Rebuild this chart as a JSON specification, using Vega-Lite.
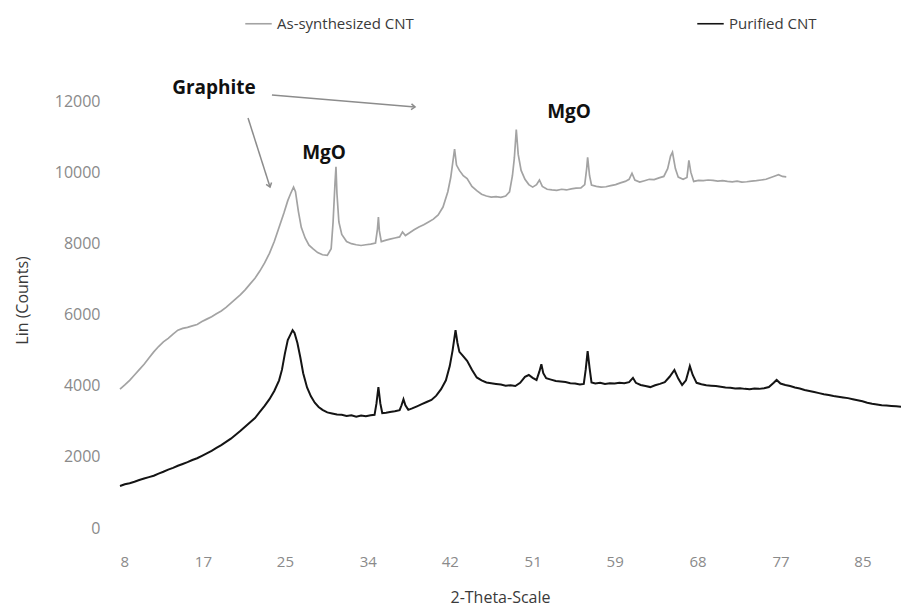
{
  "$schema": "https://vega.github.io/schema/vega-lite/v6.json",
  "width": 781,
  "height": 427,
  "autosize": {"type": "none"},
  "padding": {"left": 120, "top": 101, "right": 0, "bottom": 81},
  "background": "#ffffff",
  "config": {
    "view": {"stroke": null},
    "font": "Open Sans",
    "axis": {"grid": false, "domain": false, "ticks": false, "labelFont": "Open Sans", "titleFont": "Open Sans", "labelColor": "#8a8a8a", "titleColor": "#3a3a3a", "titleFontWeight": "normal"}
  },
  "datasets": {
    "A": [
      {"t":8.0,"c":3900},{"t":8.5,"c":4020},{"t":9.0,"c":4150},{"t":9.5,"c":4300},{"t":10.0,"c":4450},{"t":10.5,"c":4600},{"t":11.0,"c":4780},{"t":11.5,"c":4950},{"t":12.0,"c":5100},{"t":12.5,"c":5230},{"t":13.0,"c":5330},{"t":13.5,"c":5450},{"t":14.0,"c":5560},{"t":14.5,"c":5610},{"t":15.0,"c":5640},{"t":15.5,"c":5680},{"t":16.0,"c":5720},{"t":16.5,"c":5800},{"t":17.0,"c":5870},{"t":17.5,"c":5940},{"t":18.0,"c":6020},{"t":18.5,"c":6100},{"t":19.0,"c":6200},{"t":19.5,"c":6320},{"t":20.0,"c":6440},{"t":20.5,"c":6560},{"t":21.0,"c":6700},{"t":21.5,"c":6860},{"t":22.0,"c":7020},{"t":22.5,"c":7220},{"t":23.0,"c":7450},{"t":23.5,"c":7720},{"t":24.0,"c":8050},{"t":24.5,"c":8450},{"t":25.0,"c":8850},{"t":25.4,"c":9200},{"t":25.7,"c":9400},{"t":26.0,"c":9580},{"t":26.2,"c":9450},{"t":26.5,"c":8900},{"t":26.8,"c":8450},{"t":27.2,"c":8150},{"t":27.6,"c":7950},{"t":28.0,"c":7850},{"t":28.5,"c":7740},{"t":29.0,"c":7680},{"t":29.5,"c":7660},{"t":29.9,"c":7850},{"t":30.1,"c":8600},{"t":30.3,"c":9700},{"t":30.4,"c":10150},{"t":30.5,"c":9400},{"t":30.7,"c":8600},{"t":31.0,"c":8250},{"t":31.5,"c":8050},{"t":32.0,"c":7990},{"t":32.5,"c":7960},{"t":33.0,"c":7940},{"t":33.5,"c":7960},{"t":34.0,"c":7980},{"t":34.5,"c":8010},{"t":34.7,"c":8400},{"t":34.8,"c":8740},{"t":34.9,"c":8350},{"t":35.1,"c":8050},{"t":35.6,"c":8090},{"t":36.0,"c":8120},{"t":36.5,"c":8150},{"t":37.0,"c":8180},{"t":37.3,"c":8320},{"t":37.6,"c":8220},{"t":38.0,"c":8290},{"t":38.5,"c":8380},{"t":39.0,"c":8460},{"t":39.5,"c":8520},{"t":40.0,"c":8600},{"t":40.5,"c":8680},{"t":41.0,"c":8800},{"t":41.5,"c":9020},{"t":42.0,"c":9450},{"t":42.3,"c":9850},{"t":42.5,"c":10250},{"t":42.7,"c":10650},{"t":42.9,"c":10200},{"t":43.2,"c":10050},{"t":43.6,"c":9900},{"t":44.0,"c":9820},{"t":44.5,"c":9600},{"t":45.0,"c":9480},{"t":45.5,"c":9380},{"t":46.0,"c":9330},{"t":46.5,"c":9300},{"t":47.0,"c":9310},{"t":47.5,"c":9290},{"t":48.0,"c":9330},{"t":48.4,"c":9450},{"t":48.7,"c":9900},{"t":48.9,"c":10400},{"t":49.1,"c":11200},{"t":49.3,"c":10500},{"t":49.6,"c":10050},{"t":50.0,"c":9800},{"t":50.4,"c":9650},{"t":50.8,"c":9580},{"t":51.2,"c":9650},{"t":51.5,"c":9780},{"t":51.8,"c":9600},{"t":52.3,"c":9520},{"t":52.8,"c":9500},{"t":53.3,"c":9490},{"t":53.8,"c":9520},{"t":54.3,"c":9500},{"t":54.8,"c":9530},{"t":55.3,"c":9550},{"t":55.8,"c":9560},{"t":56.2,"c":9650},{"t":56.4,"c":10100},{"t":56.5,"c":10420},{"t":56.7,"c":9900},{"t":56.9,"c":9640},{"t":57.4,"c":9600},{"t":57.9,"c":9580},{"t":58.4,"c":9590},{"t":58.9,"c":9620},{"t":59.4,"c":9650},{"t":59.9,"c":9700},{"t":60.4,"c":9740},{"t":60.8,"c":9800},{"t":61.1,"c":9970},{"t":61.4,"c":9780},{"t":61.9,"c":9720},{"t":62.4,"c":9760},{"t":62.9,"c":9800},{"t":63.4,"c":9790},{"t":63.9,"c":9840},{"t":64.4,"c":9880},{"t":64.8,"c":10100},{"t":65.1,"c":10450},{"t":65.3,"c":10560},{"t":65.6,"c":10100},{"t":65.9,"c":9860},{"t":66.4,"c":9800},{"t":66.8,"c":9850},{"t":67.0,"c":10330},{"t":67.2,"c":10000},{"t":67.5,"c":9740},{"t":68.0,"c":9770},{"t":68.5,"c":9760},{"t":69.0,"c":9780},{"t":69.5,"c":9770},{"t":70.0,"c":9750},{"t":70.5,"c":9760},{"t":71.0,"c":9740},{"t":71.5,"c":9730},{"t":72.0,"c":9750},{"t":72.5,"c":9720},{"t":73.0,"c":9730},{"t":73.5,"c":9750},{"t":74.0,"c":9760},{"t":74.5,"c":9780},{"t":75.0,"c":9800},{"t":75.5,"c":9850},{"t":76.0,"c":9900},{"t":76.3,"c":9930},{"t":76.7,"c":9880},{"t":77.1,"c":9870}
    ],
    "P": [
      {"t":8.0,"c":1180},{"t":8.5,"c":1230},{"t":9.0,"c":1260},{"t":9.5,"c":1300},{"t":10.0,"c":1350},{"t":10.5,"c":1390},{"t":11.0,"c":1430},{"t":11.5,"c":1470},{"t":12.0,"c":1530},{"t":12.5,"c":1580},{"t":13.0,"c":1640},{"t":13.5,"c":1690},{"t":14.0,"c":1750},{"t":14.5,"c":1800},{"t":15.0,"c":1850},{"t":15.5,"c":1910},{"t":16.0,"c":1960},{"t":16.5,"c":2030},{"t":17.0,"c":2100},{"t":17.5,"c":2170},{"t":18.0,"c":2250},{"t":18.5,"c":2330},{"t":19.0,"c":2420},{"t":19.5,"c":2510},{"t":20.0,"c":2620},{"t":20.5,"c":2730},{"t":21.0,"c":2850},{"t":21.5,"c":2970},{"t":22.0,"c":3090},{"t":22.5,"c":3260},{"t":23.0,"c":3430},{"t":23.5,"c":3620},{"t":24.0,"c":3850},{"t":24.5,"c":4150},{"t":24.8,"c":4450},{"t":25.1,"c":4900},{"t":25.4,"c":5280},{"t":25.7,"c":5450},{"t":25.9,"c":5560},{"t":26.1,"c":5480},{"t":26.4,"c":5200},{"t":26.7,"c":4800},{"t":27.0,"c":4350},{"t":27.4,"c":3950},{"t":27.8,"c":3700},{"t":28.2,"c":3520},{"t":28.6,"c":3400},{"t":29.0,"c":3320},{"t":29.5,"c":3250},{"t":30.0,"c":3220},{"t":30.5,"c":3190},{"t":31.0,"c":3180},{"t":31.5,"c":3150},{"t":32.0,"c":3170},{"t":32.5,"c":3130},{"t":33.0,"c":3160},{"t":33.5,"c":3140},{"t":34.0,"c":3170},{"t":34.4,"c":3180},{"t":34.6,"c":3500},{"t":34.8,"c":3960},{"t":35.0,"c":3500},{"t":35.2,"c":3230},{"t":35.6,"c":3240},{"t":36.0,"c":3260},{"t":36.5,"c":3280},{"t":37.0,"c":3310},{"t":37.2,"c":3450},{"t":37.4,"c":3620},{"t":37.6,"c":3450},{"t":37.9,"c":3320},{"t":38.3,"c":3360},{"t":38.8,"c":3420},{"t":39.3,"c":3480},{"t":39.8,"c":3540},{"t":40.3,"c":3600},{"t":40.8,"c":3720},{"t":41.3,"c":3900},{"t":41.8,"c":4150},{"t":42.2,"c":4550},{"t":42.5,"c":5000},{"t":42.8,"c":5560},{"t":43.0,"c":5200},{"t":43.2,"c":4950},{"t":43.5,"c":4860},{"t":44.0,"c":4700},{"t":44.5,"c":4450},{"t":45.0,"c":4230},{"t":45.5,"c":4150},{"t":46.0,"c":4090},{"t":46.5,"c":4070},{"t":47.0,"c":4050},{"t":47.5,"c":4030},{"t":48.0,"c":4000},{"t":48.5,"c":4010},{"t":49.0,"c":3990},{"t":49.5,"c":4080},{"t":50.0,"c":4250},{"t":50.4,"c":4300},{"t":50.8,"c":4220},{"t":51.2,"c":4160},{"t":51.5,"c":4400},{"t":51.7,"c":4600},{"t":51.9,"c":4350},{"t":52.2,"c":4210},{"t":52.7,"c":4170},{"t":53.2,"c":4130},{"t":53.7,"c":4120},{"t":54.2,"c":4100},{"t":54.7,"c":4070},{"t":55.2,"c":4060},{"t":55.7,"c":4030},{"t":56.1,"c":4050},{"t":56.3,"c":4450},{"t":56.5,"c":4970},{"t":56.7,"c":4500},{"t":56.9,"c":4090},{"t":57.3,"c":4060},{"t":57.8,"c":4080},{"t":58.3,"c":4050},{"t":58.8,"c":4070},{"t":59.3,"c":4060},{"t":59.8,"c":4080},{"t":60.3,"c":4070},{"t":60.8,"c":4100},{"t":61.2,"c":4220},{"t":61.5,"c":4080},{"t":62.0,"c":4020},{"t":62.5,"c":3990},{"t":63.0,"c":3960},{"t":63.5,"c":4010},{"t":64.0,"c":4050},{"t":64.5,"c":4100},{"t":65.0,"c":4250},{"t":65.5,"c":4440},{"t":65.9,"c":4200},{"t":66.3,"c":4020},{"t":66.7,"c":4150},{"t":67.0,"c":4450},{"t":67.1,"c":4550},{"t":67.4,"c":4300},{"t":67.8,"c":4080},{"t":68.3,"c":4040},{"t":68.8,"c":4010},{"t":69.3,"c":4000},{"t":69.8,"c":3990},{"t":70.3,"c":3970},{"t":70.8,"c":3950},{"t":71.3,"c":3940},{"t":71.8,"c":3920},{"t":72.3,"c":3930},{"t":72.8,"c":3910},{"t":73.3,"c":3900},{"t":73.8,"c":3920},{"t":74.3,"c":3910},{"t":74.8,"c":3930},{"t":75.3,"c":3960},{"t":75.8,"c":4080},{"t":76.1,"c":4160},{"t":76.5,"c":4060},{"t":77.0,"c":4020},{"t":77.5,"c":3990},{"t":78.0,"c":3950},{"t":78.5,"c":3920},{"t":79.0,"c":3880},{"t":79.5,"c":3850},{"t":80.0,"c":3820},{"t":80.5,"c":3790},{"t":81.0,"c":3760},{"t":81.5,"c":3740},{"t":82.0,"c":3710},{"t":82.5,"c":3690},{"t":83.0,"c":3670},{"t":83.5,"c":3650},{"t":84.0,"c":3620},{"t":84.5,"c":3590},{"t":85.0,"c":3560},{"t":85.5,"c":3520},{"t":86.0,"c":3490},{"t":86.5,"c":3470},{"t":87.0,"c":3450},{"t":87.5,"c":3440},{"t":88.0,"c":3430},{"t":88.5,"c":3420},{"t":89.0,"c":3410}
    ],
    "arrows": [
      {"id":"a1","t":23.76,"c":12169,"t2":38.6,"c2":11831},
      {"id":"a2","t":21.28,"c":11522,"t2":23.56,"c2":9583}
    ],
    "labels": [
      {"txt":"Graphite","t":17.75,"c":12365},
      {"txt":"MgO","t":29.16,"c":10539},
      {"txt":"MgO","t":54.57,"c":11691}
    ]
  },
  "layer": [
    {
      "data": {"name": "A"},
      "mark": {"type": "line", "strokeWidth": 1.7, "clip": false},
      "encoding": {
        "x": {"field": "t", "type": "quantitative", "scale": {"domain": [8, 89], "nice": false, "zero": false},
              "axis": {"values": [8, 16.6, 25.1, 33.7, 42.2, 50.8, 59.3, 67.9, 76.5, 85], "labelExpr": "format(datum.value, '.0f')", "labelFontSize": 15, "labelPadding": 26, "title": "2-Theta-Scale", "titleFontSize": 16, "titleX": 380, "titleY": 69, "titleBaseline": "middle", "titleAnchor": null}},
        "y": {"field": "c", "type": "quantitative", "scale": {"domain": [0, 12000], "nice": false},
              "axis": {"values": [0, 2000, 4000, 6000, 8000, 10000, 12000], "format": "d", "labelFontSize": 16, "labelPadding": 20, "title": "Lin (Counts)", "titleFontSize": 16, "titleX": -98, "titleY": 199, "titleAngle": -90, "titleBaseline": "middle", "titleAlign": "center"}},
        "color": {"datum": "As-synthesized CNT", "type": "nominal",
                  "scale": {"domain": ["As-synthesized CNT", "Purified CNT"], "range": ["#a3a3a3", "#141414"]},
                  "legend": {"title": null, "orient": "none", "legendX": 124, "legendY": -92, "direction": "horizontal", "symbolType": "stroke", "symbolStrokeWidth": 1.6, "symbolSize": 700, "labelFontSize": 15, "labelColor": "#3a3a3a", "labelFont": "Open Sans", "columnPadding": 280, "labelOffset": 4}}
      }
    },
    {
      "data": {"name": "P"},
      "mark": {"type": "line", "strokeWidth": 2, "clip": false},
      "encoding": {
        "x": {"field": "t", "type": "quantitative"},
        "y": {"field": "c", "type": "quantitative"},
        "color": {"datum": "Purified CNT", "type": "nominal"}
      }
    },
    {
      "data": {"name": "arrows"},
      "mark": {"type": "rule", "color": "#8c8c8c", "strokeWidth": 1.5},
      "encoding": {
        "x": {"field": "t", "type": "quantitative"},
        "y": {"field": "c", "type": "quantitative"},
        "x2": {"field": "t2"},
        "y2": {"field": "c2"}
      }
    },
    {
      "data": {"name": "arrows"},
      "transform": [{"filter": "datum.id == 'a1'"}],
      "mark": {"type": "point", "shape": "M-0.6,0.8L0,0L0.6,0.8", "filled": false, "stroke": "#8c8c8c", "strokeWidth": 1.5, "size": 90, "angle": 95, "opacity": 1},
      "encoding": {
        "x": {"field": "t2", "type": "quantitative"},
        "y": {"field": "c2", "type": "quantitative"}
      }
    },
    {
      "data": {"name": "arrows"},
      "transform": [{"filter": "datum.id == 'a2'"}],
      "mark": {"type": "point", "shape": "M-0.6,0.8L0,0L0.6,0.8", "filled": false, "stroke": "#8c8c8c", "strokeWidth": 1.5, "size": 90, "angle": 162, "opacity": 1},
      "encoding": {
        "x": {"field": "t2", "type": "quantitative"},
        "y": {"field": "c2", "type": "quantitative"}
      }
    },
    {
      "data": {"name": "labels"},
      "mark": {"type": "text", "font": "Open Sans", "fontWeight": "bold", "fontSize": 19, "color": "#111111", "align": "center", "baseline": "middle"},
      "encoding": {
        "x": {"field": "t", "type": "quantitative"},
        "y": {"field": "c", "type": "quantitative"},
        "text": {"field": "txt"}
      }
    }
  ]
}
